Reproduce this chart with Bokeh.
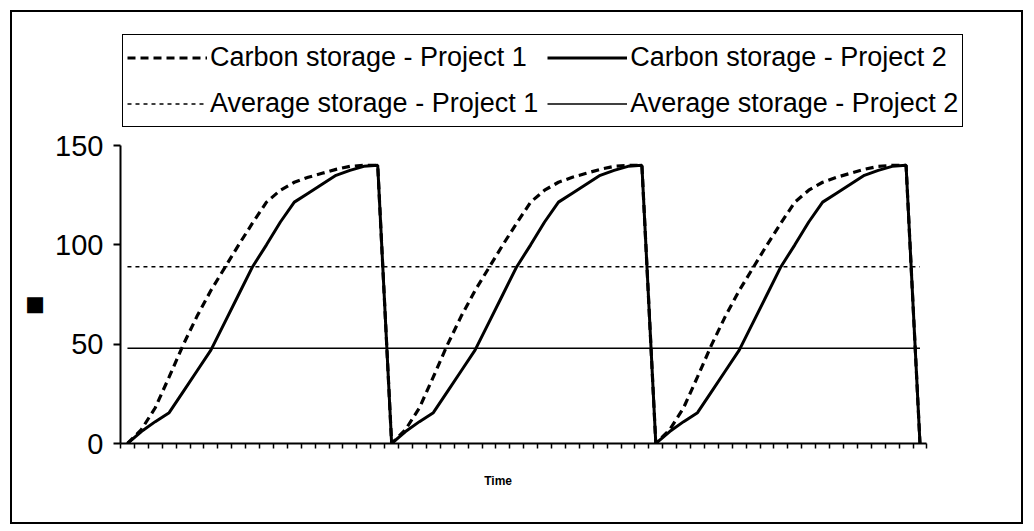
from bokeh.plotting import figure
from bokeh.models import Range1d, FixedTicker, Legend, LegendItem
from bokeh.embed import file_html
from bokeh.resources import INLINE

# ---- data ----
periods = list(range(1, 59))  # time steps (categories)

carbon_p1 = [0, 7, 18, 33.5, 49.5, 64, 77, 88.5, 100, 111, 121.5, 127.5, 131.5, 134, 136, 138, 139.5, 140, 140,
             0, 7, 18, 33.5, 49.5, 64, 77, 88.5, 100, 111, 121.5, 127.5, 131.5, 134, 136, 138, 139.5, 140, 140,
             0, 7, 18, 33.5, 49.5, 64, 77, 88.5, 100, 111, 121.5, 127.5, 131.5, 134, 136, 138, 139.5, 140, 140,
             0]
carbon_p2 = [0, 6, 11, 15.5, 26, 36.5, 47, 61, 75, 89, 100, 111.5, 121.5, 126, 130.5, 135, 137.5, 139.5, 140,
             0, 6, 11, 15.5, 26, 36.5, 47, 61, 75, 89, 100, 111.5, 121.5, 126, 130.5, 135, 137.5, 139.5, 140,
             0, 6, 11, 15.5, 26, 36.5, 47, 61, 75, 89, 100, 111.5, 121.5, 126, 130.5, 135, 137.5, 139.5, 140,
             0]
avg_p1 = 89
avg_p2 = 48

y_ticks = [0, 50, 100, 150]
y_max = 150
labels = ["Carbon storage - Project 1", "Carbon storage - Project 2",
          "Average storage - Project 1", "Average storage - Project 2"]
x_title = "Time"
y_title = "\u25A0"

n = len(periods)
x = [i + 0.5 for i in range(n)]

# layout (canvas pixels); frame extended upward/rightward to hold the legend
W, H = 1013, 514
f_left, f_right, f_top, f_bottom = 103, 990, 8, 431
axis_w, axis_h = 811, 298
x_end = n * (f_right - f_left) / axis_w
y_end = y_max * (f_bottom - f_top) / axis_h

p = figure(width=W, height=H, output_backend="svg", toolbar_location=None,
           x_range=Range1d(0, x_end), y_range=Range1d(0, y_end),
           min_border_left=f_left, min_border_right=W - f_right,
           min_border_top=f_top, min_border_bottom=H - f_bottom)
p.styles = {"border": "2px solid black", "margin": "10px 0 0 10px"}
p.outline_line_color = None
p.xgrid.visible = False
p.ygrid.visible = False
p.background_fill_color = "white"
p.border_fill_color = "white"

r1 = p.line(x, carbon_p1, line_color="black", line_width=3.2, line_dash="8 5")
r2 = p.line(x, carbon_p2, line_color="black", line_width=3)
r3 = p.line(x, [avg_p1] * n, line_color="black", line_width=1.5, line_dash="4 4")
r4 = p.line(x, [avg_p2] * n, line_color="black", line_width=1.5)

# y axis
ya = p.yaxis[0]
ya.bounds = (0, y_max)
ya.ticker = FixedTicker(ticks=y_ticks)
ya.major_label_text_font = "Liberation Sans"
ya.major_label_text_font_size = "29px"
ya.major_label_text_color = "black"
ya.major_tick_out = 7
ya.major_tick_in = 0
ya.minor_tick_out = 0
ya.minor_tick_in = 0
ya.axis_line_width = 2
ya.major_tick_line_width = 2
ya.major_label_standoff = 10
# non-breaking spaces keep the label next to the plotted range (not the legend area)
ya.axis_label = y_title + "\u00A0" * 16
ya.axis_label_text_font = "Liberation Sans"
ya.axis_label_text_font_size = "33px"
ya.axis_label_text_font_style = "normal"
ya.axis_label_text_color = "black"
ya.axis_label_standoff = 0

# x axis
xa = p.xaxis[0]
xa.bounds = (0, n)
xa.ticker = FixedTicker(ticks=[], minor_ticks=list(range(n + 1)))
xa.minor_tick_out = 5
xa.minor_tick_in = 0
xa.minor_tick_line_width = 1.5
xa.minor_tick_line_color = "black"
xa.axis_line_width = 2
xa.axis_label = x_title + "\u00A0" * 38
xa.axis_label_text_font = "Liberation Sans"
xa.axis_label_text_font_size = "12px"
xa.axis_label_text_font_style = "bold"
xa.axis_label_text_color = "black"
xa.axis_label_standoff = 25

legend = Legend(items=[LegendItem(label=labels[0], renderers=[r1]),
                       LegendItem(label=labels[1], renderers=[r2]),
                       LegendItem(label=labels[2], renderers=[r3]),
                       LegendItem(label=labels[3], renderers=[r4])],
                location=(2, 316), orientation="horizontal", ncols=2,
                label_text_font="Liberation Sans", label_text_font_size="27px",
                label_text_color="black",
                label_standoff=3, glyph_width=80, glyph_height=37, label_height=37,
                spacing=9, padding=4, margin=0,
                border_line_color="black", border_line_width=1.5, border_line_alpha=1.0,
                background_fill_color="white", background_fill_alpha=1.0)
p.add_layout(legend)

open("out.html", "w").write(file_html(p, INLINE))
